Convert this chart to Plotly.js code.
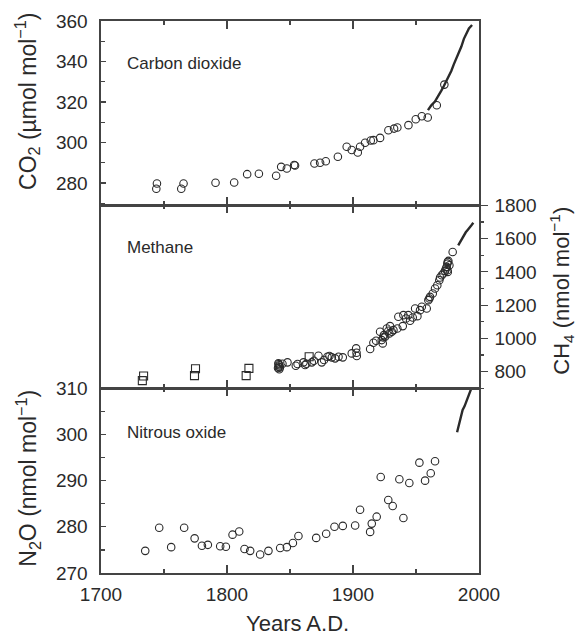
<!DOCTYPE html>
<html>
<head>
<meta charset="utf-8">
<script src="https://cdn.plot.ly/plotly-3.0.1.min.js"></script>
<style>html,body{margin:0;padding:0;background:#fff;}#chart{width:579px;height:637px;}</style>
</head>
<body>
<div id="chart"></div>
<script>
// ---- Data ----
// CO2 ice-core (open circles)
const co2Years  = [1744.4,1743.9,1765.5,1763.7,1790.9,1805.7,1816,1825.3,1839,1843,1847.5,1853.3,1854,1869.4,1873.9,1878.4,1888,1895,1899,1903.8,1905.6,1909.6,1914.1,1916.2,1921.5,1928.1,1932.6,1935.2,1944,1949.8,1954.6,1959.3,1966.5,1972.5];
const co2Values = [279.8,277.2,279.8,277.2,280.2,280.3,284.4,284.6,283.6,288,287.2,288.9,288.7,289.7,290,290.8,293,297.9,296.3,295.1,297.9,299.9,301,301.2,302.3,306.1,306.9,307.4,308.6,311.5,313,312.4,318.4,328.6];
// CO2 atmospheric record (line)
const co2LineYears  = [1959.5,1962,1965,1968,1970,1972,1974,1976,1978,1980,1982,1984,1986,1988,1990,1992,1994.5];
const co2LineValues = [316,318.3,320.2,323,325.5,327.8,330.2,332.2,335.3,338.6,341.4,344.5,347.4,351.2,354.2,356.3,358];

// CH4 ice-core circles
const ch4CircleYears  = [1840.5,1841,1841.5,1841,1840.8,1842,1841.5,1844,1848,1854.6,1856,1860.7,1862,1863,1867.3,1869,1872.6,1875.2,1877,1879.7,1881.3,1883.2,1885.8,1888.5,1891.9,1899,1902.5,1902.8,1903,1913.6,1916.2,1918.3,1921.5,1922.8,1923.6,1924.1,1924.5,1925.5,1926.8,1928.1,1928.9,1929.4,1930.8,1932.1,1935.2,1936,1939.5,1940,1942.1,1943.9,1945.3,1947.4,1949.3,1951.1,1953.2,1954.6,1958.5,1959.8,1960.6,1961.1,1963.3,1965.1,1966.9,1968.5,1969.1,1970.4,1971.7,1973,1973.8,1974.4,1974.9,1975.2,1975.7,1976.5,1975.2,1974.9,1979.1];
const ch4CircleValues = [822,830,838,845,850,826,815,848,856,836,846,856,840,848,856,866,896,856,870,890,894,886,880,890,886,910,940,914,894,936,974,986,1040,990,970,1006,1020,1010,1060,1046,1030,1074,1040,1050,1060,1130,1074,1140,1120,1140,1106,1126,1180,1134,1170,1190,1180,1230,1240,1250,1270,1300,1320,1350,1366,1380,1390,1406,1420,1430,1450,1460,1466,1440,1400,1410,1520];
// CH4 squares
const ch4SquareYears  = [1733.8,1732.8,1775,1774.2,1817.4,1815.2,1865.2];
const ch4SquareValues = [774,746,818,776,820,776,890];
// CH4 atmospheric record (line)
const ch4LineYears  = [1983.5,1985,1986.5,1988,1989.5,1991,1992.5,1994,1995.5];
const ch4LineValues = [1560,1580,1600,1622,1638,1652,1664,1680,1695];

// N2O ice-core circles
const n2oYears  = [1735.1,1746.2,1755.7,1766,1774.3,1780.1,1784.8,1794.6,1799.1,1804.4,1809.7,1813.9,1818.4,1826.3,1832.9,1842.2,1847.5,1852.3,1856.7,1870.8,1878.7,1885.3,1891.9,1901.7,1905.6,1913.6,1914.9,1918.8,1922,1928,1931.5,1936.8,1940,1944.7,1952.7,1957.2,1961.7,1965.1];
const n2oValues = [274.8,279.8,275.6,279.8,277.5,275.9,276.1,275.8,275.7,278.3,279,275.2,274.8,274,274.8,275.4,275.6,276.5,278,277.6,278.5,280,280.2,280.3,283.7,278.9,280.7,282.2,290.8,285.8,284.5,290.3,281.9,289.5,293.9,290,291.6,294.2];
// N2O atmospheric record (line)
const n2oLineYears  = [1982.6,1984,1985.5,1987,1988.5,1990,1991.5,1993,1994.5];
const n2oLineValues = [300.5,302.2,304,305.3,306.1,307.2,308.4,309.4,310.4];

// Axis ticks
const yearTicks = [1700,1800,1900,2000];
const co2Ticks  = [280,300,320,340,360];
const ch4Ticks  = [800,1000,1200,1400,1600,1800];
const n2oTicks  = [270,280,290,300,310];

// ---- Styling ----
const INK = '#2a2a2a';
const LINE = '#444';
const FONT = 'Liberation Sans, Arial, Helvetica, sans-serif';

const circ = {symbol:'circle-open', size:7.5, color:INK, line:{width:1.1, color:INK}};
const sq   = {symbol:'square-open', size:8, color:INK, line:{width:1.1, color:INK}};
const recLine = {color:INK, width:2.4};

const traces = [
  {x:co2Years, y:co2Values, type:'scatter', mode:'markers', marker:circ, xaxis:'x3', yaxis:'y3'},
  {x:co2LineYears, y:co2LineValues, type:'scatter', mode:'lines', line:recLine, xaxis:'x3', yaxis:'y3'},
  {x:ch4CircleYears, y:ch4CircleValues, type:'scatter', mode:'markers', marker:circ, xaxis:'x2', yaxis:'y2'},
  {x:ch4SquareYears, y:ch4SquareValues, type:'scatter', mode:'markers', marker:sq, xaxis:'x2', yaxis:'y2'},
  {x:ch4LineYears, y:ch4LineValues, type:'scatter', mode:'lines', line:recLine, xaxis:'x2', yaxis:'y2'},
  {x:n2oYears, y:n2oValues, type:'scatter', mode:'markers', marker:circ, xaxis:'x', yaxis:'y'},
  {x:n2oLineYears, y:n2oLineValues, type:'scatter', mode:'lines', line:recLine, xaxis:'x', yaxis:'y'}
];

function xAx(anchor, labels){
  return {
    anchor:anchor, range:[1700,2000], tickvals:yearTicks, showticklabels:labels,
    ticks:'inside', ticklen:8, tickwidth:1.4, tickcolor:LINE,
    minor:{tickvals:[1750,1850,1950], ticks:'inside', ticklen:4, tickwidth:1.2, tickcolor:LINE},
    showline:true, linecolor:LINE, linewidth:1.6, mirror:'ticks',
    showgrid:false, zeroline:false, fixedrange:true,
    tickfont:{family:FONT, size:19, color:INK}, ticklabelstandoff:4
  };
}

const layout = {
  width:579, height:637,
  margin:{l:101, r:100, t:21, b:64, pad:0},
  paper_bgcolor:'#fff', plot_bgcolor:'#fff',
  showlegend:false,
  font:{family:FONT, color:INK},
  xaxis: xAx('y', true),
  xaxis2: Object.assign(xAx('y2', false), {matches:'x'}),
  xaxis3: Object.assign(xAx('y3', false), {matches:'x'}),
  yaxis: {
    domain:[0,0.3346], range:[270,310], tickvals:n2oTicks, side:'left',
    ticks:'inside', ticklen:5, tickwidth:1.2, tickcolor:LINE,
    minor:{dtick:5, ticks:'inside', ticklen:4, tickwidth:1.2, tickcolor:LINE},
    showline:true, linecolor:LINE, linewidth:1.6, mirror:true,
    showgrid:false, zeroline:false, tickfont:{family:FONT, size:19, color:INK}, ticklabelstandoff:8
  },
  yaxis2: {
    domain:[0.3346,0.666], range:[700,1800], tickvals:ch4Ticks, side:'right', anchor:'x2',
    ticks:'outside', ticklen:7, tickwidth:1.2, tickcolor:LINE,
    minor:{dtick:100, ticks:'outside', ticklen:3, tickwidth:1.2, tickcolor:LINE},
    showline:true, linecolor:LINE, linewidth:1.6, mirror:true,
    showgrid:false, zeroline:false, tickfont:{family:FONT, size:19, color:INK}, ticklabelstandoff:3
  },
  yaxis3: {
    domain:[0.666,1], range:[269,360], tickvals:co2Ticks, side:'left', anchor:'x3',
    ticks:'inside', ticklen:5, tickwidth:1.2, tickcolor:LINE,
    minor:{dtick:10, ticks:'inside', ticklen:4, tickwidth:1.2, tickcolor:LINE},
    showline:true, linecolor:LINE, linewidth:1.6, mirror:true,
    showgrid:false, zeroline:false, tickfont:{family:FONT, size:19, color:INK}, ticklabelstandoff:8
  },
  annotations:[
    {text:'Carbon dioxide', xref:'paper', yref:'paper', x:0.0635, y:0.9234, xanchor:'left', yanchor:'middle', showarrow:false, font:{family:FONT, size:17, color:INK}},
    {text:'Methane', xref:'paper', yref:'paper', x:0.0635, y:0.5893, xanchor:'left', yanchor:'middle', showarrow:false, font:{family:FONT, size:17, color:INK}},
    {text:'Nitrous oxide', xref:'paper', yref:'paper', x:0.0635, y:0.2542, xanchor:'left', yanchor:'middle', showarrow:false, font:{family:FONT, size:17, color:INK}},
    {text:'CO<sub>2</sub> (\u00b5mol mol<sup>\u22121</sup>)', xref:'paper', yref:'paper', x:-0.196, y:0.855, xanchor:'center', yanchor:'middle', textangle:-90, showarrow:false, font:{family:FONT, size:23, color:INK}},
    {text:'CH<sub>4</sub> (nmol mol<sup>\u22121</sup>)', xref:'paper', yref:'paper', x:1.219, y:0.511, xanchor:'center', yanchor:'middle', textangle:-90, showarrow:false, font:{family:FONT, size:22, color:INK}},
    {text:'N<sub>2</sub>O (nmol mol<sup>\u22121</sup>)', xref:'paper', yref:'paper', x:-0.194, y:0.172, xanchor:'center', yanchor:'middle', textangle:-90, showarrow:false, font:{family:FONT, size:23, color:INK}},
    {text:'Years A.D.', xref:'paper', yref:'paper', x:0.521, y:-0.0915, xanchor:'center', yanchor:'middle', showarrow:false, font:{family:FONT, size:22, color:INK}}
  ]
};

Plotly.newPlot('chart', traces, layout, {staticPlot:true, displayModeBar:false});
</script>
</body>
</html>
